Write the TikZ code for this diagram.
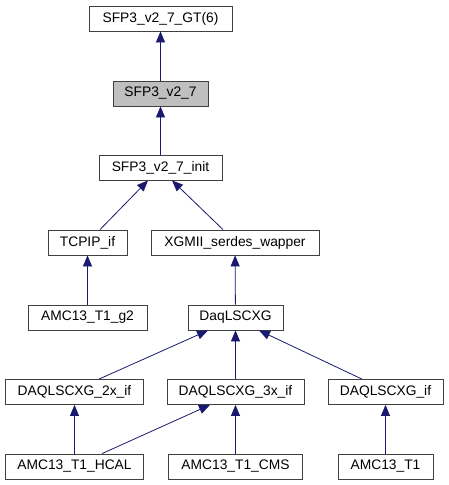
\documentclass[tikz,border=0pt]{standalone}
\usepackage{fontspec}
\setmainfont{Liberation Sans}
\usepackage{tikz}
\usetikzlibrary{arrows.meta,positioning,calc}
\definecolor{navyblue}{RGB}{25,25,112}
\definecolor{boxgray}{RGB}{191,191,191}
\definecolor{boxedge}{RGB}{64,64,64}
\tikzstyle{Cbox}=[shape=rectangle,draw=boxedge,line width=0.8pt,fill=white,minimum height=25pt,inner sep=0pt,font=\fontsize{13.8}{16}\selectfont]
\tikzstyle{Ccur}=[Cbox,fill=boxgray]
\tikzstyle{inhedge}=[-{Triangle[length=11pt,width=9pt]},draw=navyblue,line width=0.8pt]

\begin{document}
\begin{tikzpicture}[x=1pt,y=-1pt]
\useasboundingbox (0,0) rectangle (449,485);

%top of the tree
\node[Cbox,minimum width=143pt] (gt) at (160.5,18.5){SFP3\_v2\_7\_GT(6)};
\node[Ccur,minimum width=95pt] (v27) at (160.5,93.5){SFP3\_v2\_7};
\node[Cbox,minimum width=123pt] (init) at (160.5,167.5){SFP3\_v2\_7\_init};

\node[Cbox,minimum width=79pt] (tcpip) at (87.5,242.5){TCPIP\_if};
\node[Cbox,minimum width=168pt] (xgmii) at (235,242.5){XGMII\_serdes\_wapper};

\node[Cbox,minimum width=119pt] (g2) at (87.5,317.5){AMC13\_T1\_g2};
\node[Cbox,minimum width=95pt] (daq) at (235.5,317.5){DaqLSCXG};

%interfaces
\node[Cbox,minimum width=138pt] (d2x) at (74.5,392){DAQLSCXG\_2x\_if};
\node[Cbox,minimum width=137pt] (d3x) at (235.5,392){DAQLSCXG\_3x\_if};
\node[Cbox,minimum width=115pt] (dif) at (385.5,392){DAQLSCXG\_if};

%leaves
\node[Cbox,minimum width=138pt] (hcal) at (74.5,466.5){AMC13\_T1\_HCAL};
\node[Cbox,minimum width=134pt] (cms) at (235.5,466.5){AMC13\_T1\_CMS};
\node[Cbox,minimum width=95pt] (t1) at (385.5,466.5){AMC13\_T1};

\path
(v27) edge [inhedge] (gt)
(init) edge [inhedge] (v27)

([xshift=12.5pt]tcpip.north) edge [inhedge] ([xshift=-12.5pt]init.south)
([xshift=-12pt]xgmii.north) edge [inhedge] ([xshift=11.5pt]init.south)

(g2) edge [inhedge] (tcpip)
(daq) edge [inhedge] (xgmii)

([xshift=24.5pt]d2x.north) edge [inhedge] ([xshift=-27.5pt]daq.south)
(d3x) edge [inhedge] (daq)
([xshift=-23.5pt]dif.north) edge [inhedge] ([xshift=23.5pt]daq.south)

(hcal) edge [inhedge] (d2x)
([xshift=27.5pt]hcal.north) edge [inhedge] ([xshift=-25.5pt]d3x.south)
(cms) edge [inhedge] (d3x)
(t1) edge [inhedge] (dif)
;

\end{tikzpicture}
\end{document}
